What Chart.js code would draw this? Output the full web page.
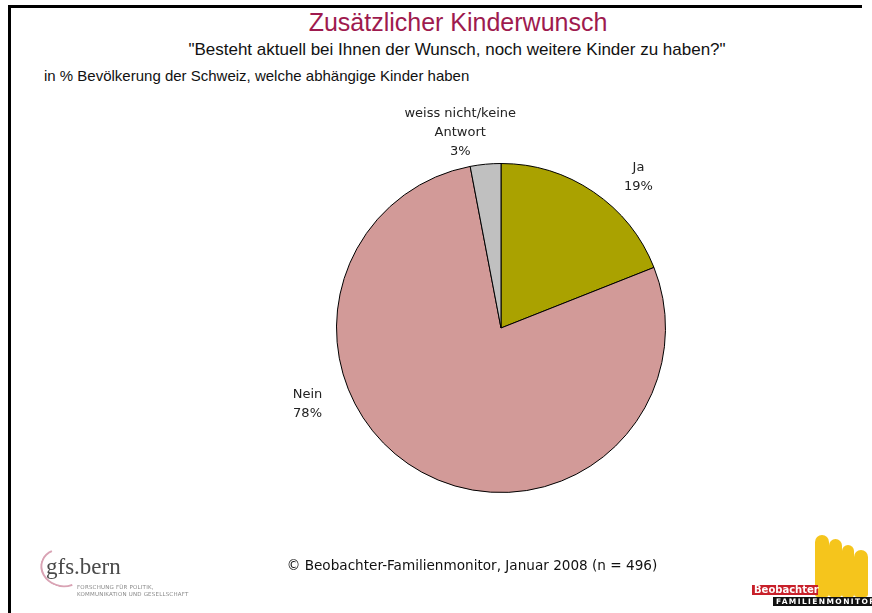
<!DOCTYPE html>
<html>
<head>
<meta charset="utf-8">
<script src="https://cdn.jsdelivr.net/npm/chart.js@4"></script>
<style>
  body { margin: 0; background: #fff; width: 872px; height: 613px; overflow: hidden; position: relative; font-family: "DejaVu Sans", sans-serif; }
  #frameTop { position: absolute; left: 8px; top: 5px; width: 854px; height: 3px; background: #000; }
  #frameLeft { position: absolute; left: 8px; top: 5px; width: 3px; height: 608px; background: #000; }
  .txt { position: absolute; white-space: nowrap; }
  #title { left: 0; width: 916px; top: 8px; text-align: center; font-family: "Liberation Sans", Arial, sans-serif; font-size: 25px; color: #9e1a4e; }
  #subtitle { left: 0; width: 914px; top: 40px; text-align: center; font-family: "Liberation Sans", Arial, sans-serif; font-size: 17px; color: #111; }
  #note { left: 44px; top: 67px; font-family: "Liberation Sans", Arial, sans-serif; font-size: 15px; color: #111; }
  #footer { left: 0; width: 944px; top: 557px; text-align: center; font-size: 13.6px; color: #111; }
  #myChart { position: absolute; left: 0; top: 0; }
  #gfs { position: absolute; left: 38px; top: 548px; width: 160px; height: 50px; }
  #gfsArc { position: absolute; left: 2px; top: 1px; width: 40px; height: 34px; border: 2px solid transparent; border-left-color: #d9a3b4; border-bottom-color: #d9a3b4; border-radius: 50%; transform: rotate(20deg); }
  #gfsName { position: absolute; left: 8px; top: 6px; font-family: "Liberation Serif", serif; font-size: 23px; color: #4a4a4a; }
  #gfsSub { position: absolute; left: 39px; top: 36px; font-size: 5.5px; line-height: 7px; color: #888; letter-spacing: 0.2px; }
  #beo { position: absolute; left: 752px; top: 535px; width: 120px; height: 72px; }
  #beoRed { position: absolute; left: 0; top: 50px; width: 64px; height: 10px; background: #c8202a; color: #fff; font-size: 10px; font-weight: bold; line-height: 10px; padding-left: 2px; }
  #beoBlack { position: absolute; left: 21px; top: 62px; width: 96px; height: 9px; background: #111; color: #fff; font-size: 7.5px; font-weight: bold; line-height: 9px; letter-spacing: 1.4px; padding-left: 3px; }
  .fig { position: absolute; background: #f5c51c; border-radius: 7px 7px 3px 3px; }
</style>
</head>
<body>
<div id="frameTop"></div>
<div id="frameLeft"></div>
<div class="txt" id="title">Zusätzlicher Kinderwunsch</div>
<div class="txt" id="subtitle">"Besteht aktuell bei Ihnen der Wunsch, noch weitere Kinder zu haben?"</div>
<div class="txt" id="note">in % Bevölkerung der Schweiz, welche abhängige Kinder haben</div>
<canvas id="myChart" width="872" height="613"></canvas>
<div class="txt" id="footer">© Beobachter-Familienmonitor, Januar 2008 (n = 496)</div>
<div id="gfs">
  <div id="gfsArc"></div>
  <div class="txt" id="gfsName">gfs.bern</div>
  <div class="txt" id="gfsSub">FORSCHUNG FÜR POLITIK,<br>KOMMUNIKATION UND GESELLSCHAFT</div>
</div>
<div id="beo">
  <div class="fig" style="left:63px; top:0px; width:14px; height:62px;"></div>
  <div class="fig" style="left:77px; top:4px; width:13px; height:58px;"></div>
  <div class="fig" style="left:90px; top:10px; width:12px; height:52px;"></div>
  <div class="fig" style="left:102px; top:15px; width:14px; height:47px;"></div>
  <div class="txt" id="beoRed">Beobachter</div>
  <div class="txt" id="beoBlack">FAMILIENMONITOR</div>
</div>
<script>
// chart data
const categories = ['Ja', 'Nein', 'weiss nicht/keine Antwort'];
const labelLines = [['Ja'], ['Nein'], ['weiss nicht/keine', 'Antwort']];
const values = [19, 78, 3];
const sliceColors = ['#aaa200', '#d29a98', '#c0c0c0'];

const ctx = document.getElementById('myChart');

// where each label block sits, in units of the pie radius from the centre
const labelAnchors = [
    { dx: 0.836, dy: -0.92 },
    { dx: -1.176, dy: 0.46 },
    { dx: -0.248, dy: -1.185 }
];

const sliceLabels = {
    id: 'sliceLabels',
    afterDatasetsDraw(chart) {
        const meta = chart.getDatasetMeta(0);
        const c = chart.ctx;
        c.save();
        c.font = '13px "DejaVu Sans", sans-serif';
        c.fillStyle = '#222';
        c.textAlign = 'center';
        c.textBaseline = 'middle';
        const lineH = 19;
        meta.data.forEach((arc, i) => {
            const r = arc.outerRadius;
            const x = arc.x + labelAnchors[i].dx * r;
            const y = arc.y + labelAnchors[i].dy * r;
            const lines = labelLines[i].concat([values[i] + '%']);
            const y0 = y - (lines.length - 1) * lineH / 2;
            lines.forEach((t, k) => c.fillText(t, x, y0 + k * lineH));
        });
        c.restore();
    }
};

let pieChart = buildChart(ctx);

function buildChart(current_ctx) {
    return new Chart(current_ctx, {
        type: 'pie',
        data: {
            labels: categories,
            datasets: [{
                data: values,
                backgroundColor: sliceColors,
                borderColor: '#000',
                borderWidth: 1
            }]
        },
        options: {
            responsive: false,
            animation: false,
            layout: {
                padding: { left: 336, top: 163, right: 206, bottom: 120 }
            },
            plugins: {
                legend: { display: false },
                tooltip: { enabled: false }
            }
        },
        plugins: [sliceLabels]
    });
}
</script>
</body>
</html>
